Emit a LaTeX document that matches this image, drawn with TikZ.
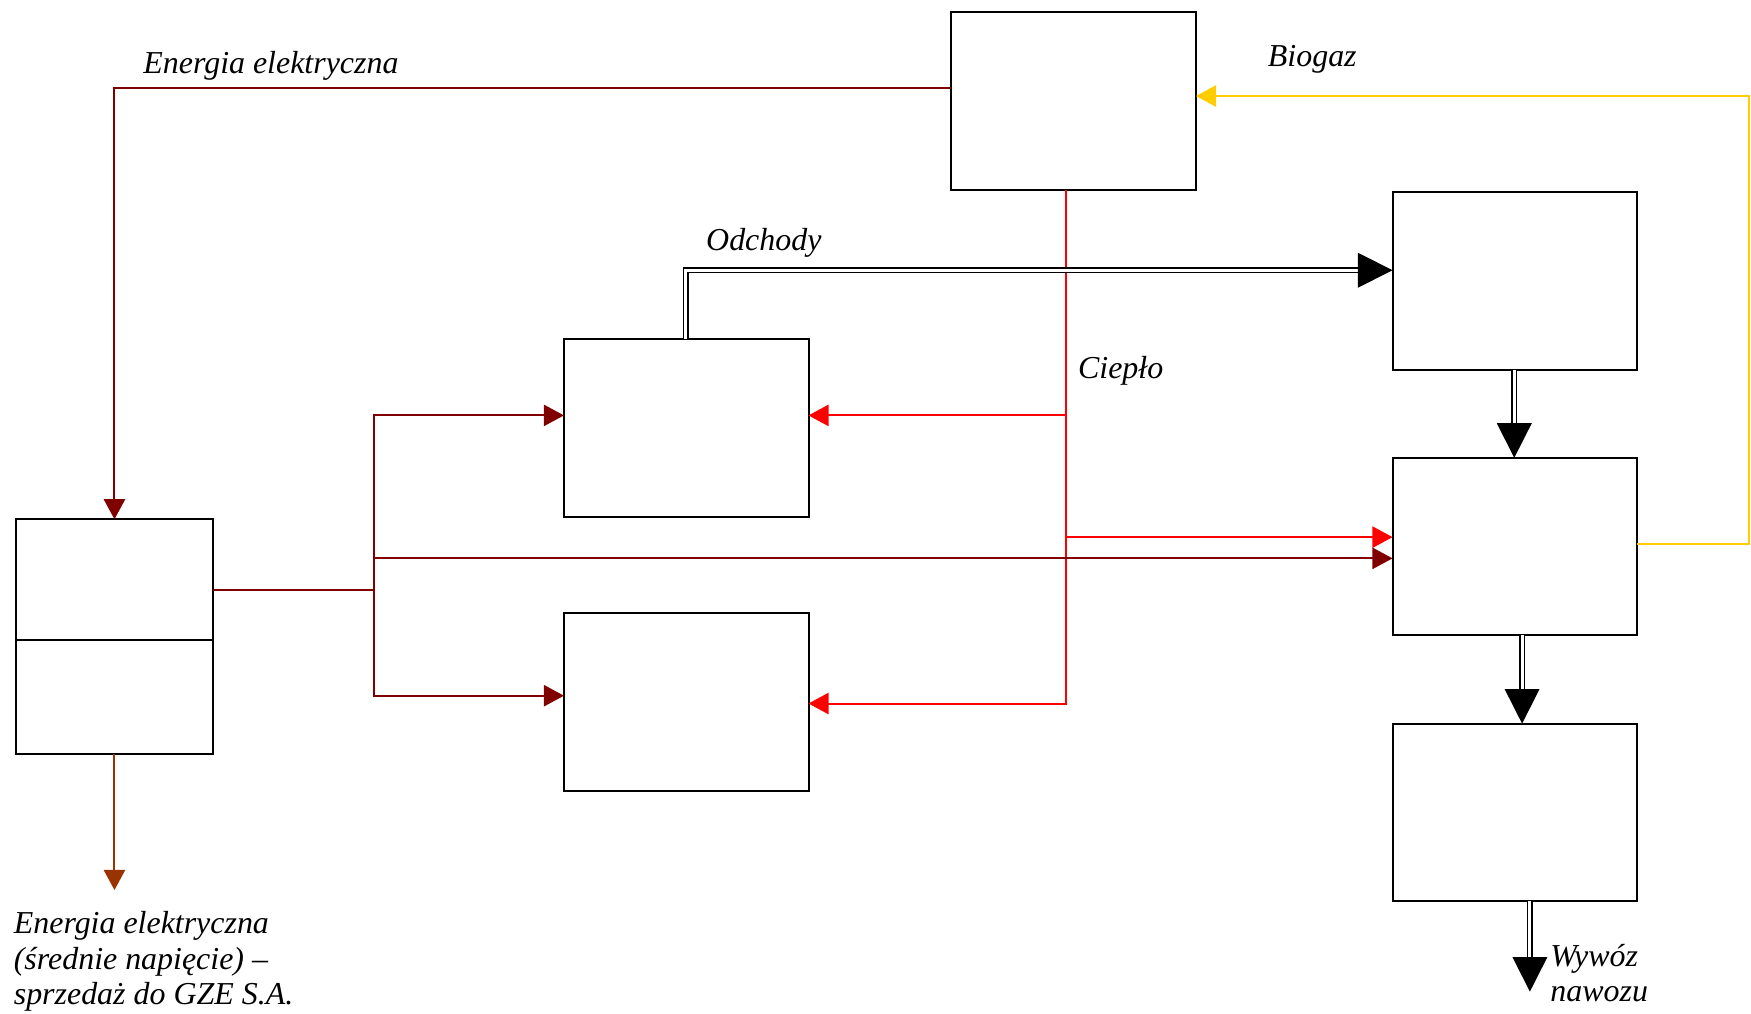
\documentclass[tikz,border=0pt]{standalone}
\usepackage{fontspec}
\setmainfont{Liberation Serif}
\usetikzlibrary{arrows.meta}
\definecolor{elec}{HTML}{800000}
\definecolor{sale}{HTML}{993300}
\definecolor{heat}{HTML}{FF0000}
\definecolor{gas}{HTML}{FFCC00}
\begin{document}
\begin{tikzpicture}[x=0.5pt,y=-0.5pt,
  box/.style={draw, line width=0.9pt, minimum width=109.5pt, minimum height=79.5pt, inner sep=0pt, outer sep=0pt},
  lbl/.style={font=\fontsize{14.3}{15.8}\selectfont\itshape, inner sep=0pt, align=left},
  tip/.style={-{Triangle[length=9pt,width=9.5pt]}},
  bigtip/.style={-{Triangle[length=15.5pt,width=15.5pt]}},
  flow/.style={line width=0.9pt},
  dbl/.style={draw=black, double=white, line width=0.75pt, double distance=1.3pt}]
\useasboundingbox (0,0) rectangle (1568,908);

% process blocks
\node[box] (T)  at (961.5,90.5)  {};
\node[box] (R1) at (1356.5,251.5) {};
\node[box] (R2) at (1356.5,489.5) {};
\node[box] (R3) at (1356.5,727.5) {};
\node[box] (M1) at (614.5,383.5) {};
\node[box] (M2) at (614.5,628.5) {};
\node[box, minimum width=88.5pt, minimum height=105pt] (L) at (102.5,570) {};
\draw[line width=0.9pt] (L.west |- 0,573) -- (L.east |- 0,573);

% electricity from the generator
\draw[flow, elec, tip] (T.west |- 0,79) -| (L.north);
\node[lbl, anchor=base west] (lE) at (128,66) {Energia elektryczna};

% biogas return
\draw[flow, gas, tip] (R2.east |- 0,487) -- (1566,487) |- (T.east |- 0,86);
\node[lbl, anchor=base west] (lB) at (1135,60) {Biogaz};

% heat distribution
\coordinate (hTop) at (T.south -| 955,0);
\coordinate (h1) at (955,372);
\coordinate (h2) at (955,481);
\coordinate (h3) at (955,630);
\draw[flow, heat, tip] (hTop) -- (h3) -- (M2.east |- h3);
\draw[flow, heat, tip] (h1) -- (M1.east |- h1);
\draw[flow, heat, tip] (h2) -- (R2.west |- h2);
\node[lbl, anchor=base west] (lC) at (965,339) {Ciepło};

% internal electricity supply
\coordinate (e0) at (335,528);
\coordinate (e1) at (335,372);
\coordinate (e2) at (335,500);
\coordinate (e3) at (335,623);
\draw[flow, elec] (L.east |- e0) -- (e0);
\draw[flow, elec, tip] (e0) -- (e1) -- (M1.west |- e1);
\draw[flow, elec, tip] (e0) -- (e3) -- (M2.west |- e3);
\draw[flow, elec, tip] (e2) -- (R2.west |- e2);

% waste and digestate stream
\draw[dbl, bigtip] (M1.north -| 614,0) -- (614,242) -- (R1.west |- 0,242);
\node[lbl, anchor=base west] (lO) at (632,224) {Odchody};
\draw[dbl, bigtip] (R1.south -| 1356,0) -- (R2.north -| 1356,0);
\draw[dbl, bigtip] (R2.south -| 1363,0) -- (R3.north -| 1363,0);
\coordinate (out) at (1370,888);
\draw[dbl, bigtip] (R3.south -| out) -- (out);
\node[lbl, anchor=north west] (lW) at (1388,845) {Wywóz\\nawozu};

% electricity sold to the grid
\coordinate (sell) at (102.5,797);
\draw[flow, sale, tip] (L.south) -- (sell);
\node[lbl, anchor=north west] (lS) at (12,816) {Energia elektryczna\\(średnie napięcie) –\\sprzedaż do GZE S.A.};
\end{tikzpicture}
\end{document}
